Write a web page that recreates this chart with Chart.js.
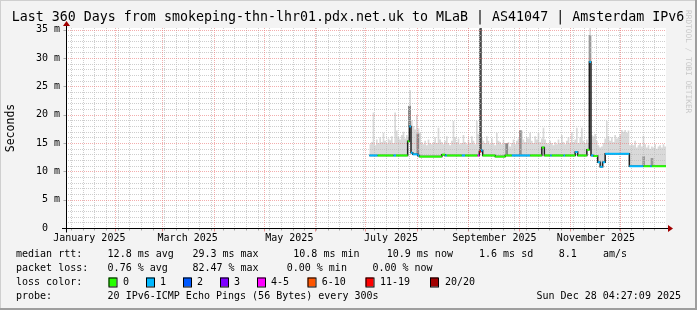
<!DOCTYPE html>
<html><head><meta charset="utf-8">
<script src="https://cdn.jsdelivr.net/npm/chart.js@4/dist/chart.umd.min.js"></script>
<style>html,body{margin:0;padding:0;background:#f3f3f3;}canvas{display:block;}</style>
</head><body>
<canvas id="c" width="697" height="310"></canvas>
<script>
// ---------- data (days since 2025-01-01 00:00) ----------
const titleText = 'Last 360 Days from smokeping-thn-lhr01.pdx.net.uk to MLaB | AS41047 | Amsterdam IPv6';
const yTickValues = [0, 5, 10, 15, 20, 25, 30, 35];
const yTickLabels = ['0  ', '5 m', '10 m', '15 m', '20 m', '25 m', '30 m', '35 m'];
const monthStartDays = [0, 31, 59, 90, 120, 151, 181, 212, 243, 273, 304, 334];
const monthLabelDays = [15.5, 74.5, 135.5, 196.5, 258.5, 319.5];
const monthLabels = ['January 2025', 'March 2025', 'May 2025', 'July 2025', 'September 2025', 'November 2025'];

// median rtt (ms) as steps: start day, value, lost pings (of 20)
const medStart = [183.5,188.5,198,199.5,206.5,207.5,208.5,209.5,212.5,213.5,227,229,230,239,241,248.5,249.5,250.5,251.5,259,265,269,280,287,288.5,292,293,300,301,307,308.5,314,315.5,316.5,318,320.5,322,323.5,325,339.5,348,352,353];
const medMs    = [12.8,12.8,12.8,12.8,15.3,17.9,13.3,13.0,12.8,12.6,12.95,12.8,12.8,12.8,12.8,12.8,13.5,13.7,12.8,12.6,12.8,12.8,12.8,14.2,12.8,12.8,12.8,12.8,12.8,13.4,12.8,13.8,29.3,12.8,12.7,11.6,10.8,11.6,13.1,10.9,10.9,10.9,10.9];
const medLoss  = [1,0,1,0,0,1,1,1,1,0,0,1,0,1,0,4,12,1,0,0,0,1,0,0,0,1,0,1,0,1,0,0,1,1,0,1,1,1,1,1,0,1,0];

// smoke (max of pings, ms), one value per day from smokeStart
const smokeStart = 183.5;
const smokeTop = [
 14.8,15.2,20.4,14.6,15.6,15.0,16.0,15.2,16.8,15.4,
 14.9,15.8,15.5,16.2,15.0,20.4,17.2,16.0,15.6,16.4,
 17.0,15.8,16.4,16.0,24.3,19.0,18.0,17.4,20.0,17.6,
 16.8,15.2,14.8,15.4,14.6,15.6,15.0,14.8,15.2,16.0,
 15.0,17.7,15.6,15.2,14.8,15.4,16.2,15.0,14.6,15.4,
 18.9,16.0,15.2,15.8,14.8,15.0,16.4,15.2,14.8,15.6,
 15.0,16.2,15.4,14.8,18.9,16.6,15.6,16.0,15.4,15.0,
 16.2,15.4,14.8,15.8,15.0,14.6,16.8,15.4,15.2,14.8,
 15.6,15.0,14.8,15.2,14.4,15.0,15.6,14.8,15.4,15.8,
 16.0,17.2,15.6,15.2,16.0,15.8,16.8,15.4,15.0,16.2,
 15.6,16.8,15.2,15.8,17.7,15.6,15.0,14.8,15.4,15.0,
 14.6,15.2,14.8,15.6,15.0,16.4,15.2,14.8,15.4,16.0,
 15.0,16.9,15.2,15.6,17.7,15.0,16.0,17.7,15.4,15.0,
 15.6,15.0,36.0,16.4,16.2,16.6,15.4,14.6,14.2,14.4,
 15.0,15.8,18.9,16.2,15.4,16.0,15.2,16.4,15.8,16.0,
 16.4,17.3,17.0,17.3,16.8,17.2,14.6,14.8,14.6,15.4,
 14.2,14.6,15.0,14.4,16.3,14.8,14.2,14.6,14.0,14.4,
 14.2,14.8,14.0,14.4,14.6,14.2,14.8,14.4
];
// dense smoke columns
const darkDays = [207.6, 212.6, 250.2, 265.9, 274.1, 315.9, 348.1, 353.1];
const darkLow  = [17.9, 13.0, 13.6, 12.8, 12.8, 29.3, 10.9, 10.9];
const darkHigh = [21.5, 16.6, 36.0, 14.9, 17.2, 34.0, 12.6, 12.3];

const legendRows = [
  [['median rtt:',16],['12.8 ms avg',107.6],['29.3 ms max',192.4],['10.8 ms min',293.3],['10.9 ms now',386.7],['1.6 ms sd',479],['8.1',558.7],['am/s',603]],
  [['packet loss:',16],['0.76 % avg',107.6],['82.47 % max',192.4],['0.00 % min',286.7],['0.00 % now',372.4]],
  [['loss color:',16]],
  [['probe:',16],['20 IPv6-ICMP Echo Pings (56 Bytes) every 300s',107.6]]
];
const lossLabels = ['0','1','2','3','4-5','6-10','11-19','20/20'];
const lossColors = ['#26ff00','#00b8ff','#0059ff','#7e00ff','#ff00ff','#ff5500','#ff0000','#a10000'];
const dateText = 'Sun Dec 28 04:27:09 2025';

const X_MIN = 1.5, X_MAX = 361.5, Y_MAX = 35.3;
const MONO = '"DejaVu Sans Mono", monospace';

function lossColor(n){
  if (n >= 20) return lossColors[7];
  if (n >= 11) return lossColors[6];
  if (n >= 6) return lossColors[5];
  if (n >= 4) return lossColors[4];
  return lossColors[n];
}
function medianAt(d){
  let v = medMs[0];
  for (let k = 0; k < medStart.length; k++) if (medStart[k] <= d + 1e-9) v = medMs[k];
  return v;
}

// build datasets
const baseData = smokeTop.map((t, i) => ({x: smokeStart + i, y: medianAt(smokeStart + i)}));
baseData.push({x: X_MAX, y: baseData[baseData.length-1].y});
const topData = smokeTop.map((t, i) => ({x: smokeStart + i, y: t}));
topData.push({x: X_MAX, y: smokeTop[smokeTop.length-1]});

const blackData = medStart.map((d, k) => ({x: d, y: medMs[k]}));
blackData.push({x: X_MAX, y: medMs[medMs.length-1]});

const colorData = [];
medStart.forEach((d, k) => {
  const end = k + 1 < medStart.length ? medStart[k+1] : X_MAX;
  colorData.push({x: d, y: medMs[k], loss: medLoss[k]});
  colorData.push({x: end, y: medMs[k], loss: medLoss[k]});
  colorData.push({x: end, y: null, loss: medLoss[k]});
});

const darkData = darkDays.map((d, i) => ({x: d, y: [darkLow[i], darkHigh[i]]}));

function gridLine(ctx, x1, y1, x2, y2){ ctx.beginPath(); ctx.moveTo(x1, y1); ctx.lineTo(x2, y2); ctx.stroke(); }

function drawGrid(chart){
  const {ctx, chartArea: a, scales: {x, y}} = chart;
  ctx.save();
  ctx.beginPath(); ctx.rect(a.left, a.top - 1, a.right - a.left + 1, a.bottom - a.top + 1); ctx.clip();
  ctx.lineWidth = 1; ctx.setLineDash([1, 1]);
  ctx.strokeStyle = 'rgba(190,190,190,0.75)';
  for (let v = 1; v <= 35; v++) { if (v % 5 === 0) continue; const py = Math.round(y.getPixelForValue(v)) + 0.5; gridLine(ctx, a.left, py, a.right, py); }
  for (let d = 4.5; d < X_MAX; d += 7) { const px = Math.round(x.getPixelForValue(d)) + 0.5; gridLine(ctx, px, a.top, px, a.bottom); }
  ctx.strokeStyle = 'rgba(235,120,120,0.6)';
  for (let v = 5; v <= 35; v += 5) { const py = Math.round(y.getPixelForValue(v)) + 0.5; gridLine(ctx, a.left, py, a.right, py); }
  monthStartDays.forEach(d => { if (d < X_MIN) return; const px = Math.round(x.getPixelForValue(d)) + 0.5; gridLine(ctx, px, a.top, px, a.bottom); });
  ctx.restore();
}

const framePlugin = {
  id: 'frame',
  beforeDraw(chart){
    const {ctx, chartArea: a} = chart;
    ctx.save();
    ctx.fillStyle = '#f3f3f3'; ctx.fillRect(0, 0, 697, 310);
    ctx.fillStyle = '#ffffff'; ctx.fillRect(a.left, a.top, a.right - a.left, a.bottom - a.top);
    ctx.fillStyle = '#cfcfcf'; ctx.fillRect(0, 0, 697, 1); ctx.fillRect(0, 0, 1, 310);
    ctx.fillStyle = '#9e9e9e'; ctx.fillRect(0, 308, 697, 2); ctx.fillRect(695, 0, 2, 310);
    ctx.restore();
  },
  afterDatasetDraw(chart, args){
    if (chart.data.datasets[args.index].role === 'dark') drawGrid(chart);
  },
  afterDraw(chart){
    const {ctx, chartArea: a, scales: {x, y}} = chart;
    ctx.save();
    const x0 = a.left + 0.5, y0 = Math.round(y.getPixelForValue(0)) + 0.5;
    ctx.lineWidth = 1;
    ctx.strokeStyle = 'rgba(235,120,120,0.8)';
    monthStartDays.forEach(d => { if (d < X_MIN) return; const px = Math.round(x.getPixelForValue(d)) + 0.5; gridLine(ctx, px, y0, px, y0 + 3); });
    ctx.strokeStyle = 'rgba(150,150,150,0.8)';
    for (let d = 4.5; d < X_MAX; d += 7) { const px = Math.round(x.getPixelForValue(d)) + 0.5; gridLine(ctx, px, y0, px, y0 + 2); }
    yTickValues.forEach(v => { const py = Math.round(y.getPixelForValue(v)) + 0.5; gridLine(ctx, x0 - 3, py, x0, py); });
    ctx.strokeStyle = '#000'; ctx.setLineDash([]);
    gridLine(ctx, a.left - 4, y0, a.right + 3, y0);
    gridLine(ctx, x0, y0 + 4, x0, a.top - 5);
    ctx.fillStyle = '#a00000';
    ctx.beginPath(); ctx.moveTo(a.right + 2, y0 - 3.5); ctx.lineTo(a.right + 7, y0); ctx.lineTo(a.right + 2, y0 + 3.5); ctx.closePath(); ctx.fill();
    ctx.beginPath(); ctx.moveTo(x0 - 3.5, a.top - 2); ctx.lineTo(x0, a.top - 7); ctx.lineTo(x0 + 3.5, a.top - 2); ctx.closePath(); ctx.fill();
    ctx.fillStyle = '#000'; ctx.textBaseline = 'middle';
    ctx.font = '13.3px ' + MONO; ctx.textAlign = 'center';
    ctx.fillText(titleText, 348, 18);
    ctx.save(); ctx.translate(11, 128); ctx.rotate(-Math.PI / 2);
    ctx.font = '11.5px ' + MONO; ctx.fillText('Seconds', 0, 0); ctx.restore();
    ctx.save(); ctx.translate(688, 10); ctx.rotate(Math.PI / 2);
    ctx.font = '7.8px ' + MONO; ctx.fillStyle = '#c8c8c8'; ctx.textAlign = 'left';
    ctx.fillText('RRDTOOL / TOBI OETIKER', 0, 0); ctx.restore();
    ctx.font = '10px ' + MONO; ctx.textAlign = 'left'; ctx.fillStyle = '#000';
    const rowY = [254, 268, 282, 296];
    legendRows.forEach((row, r) => row.forEach(([t, px]) => ctx.fillText(t, px, rowY[r])));
    const boxX = [108.5, 146, 183, 220, 257, 307.5, 365.5, 430];
    const labX = [123, 160, 197, 234, 271, 321.8, 380, 445];
    lossLabels.forEach((l, i) => {
      ctx.fillStyle = lossColors[i]; ctx.fillRect(boxX[i], rowY[2] - 4.5, 8, 9);
      ctx.strokeStyle = '#000'; ctx.strokeRect(boxX[i] + 0.5, rowY[2] - 4, 8, 9);
      ctx.fillStyle = '#000'; ctx.fillText(l, labX[i], rowY[2]);
    });
    ctx.textAlign = 'right'; ctx.fillText(dateText, 681, rowY[3]);
    ctx.restore();
  }
};

new Chart(document.getElementById('c'), {
  type: 'line',
  data: {
    datasets: [
      {role: 'colored', data: colorData, order: 0, borderWidth: 2, pointRadius: 0, spanGaps: false, fill: false,
       borderCapStyle: 'butt',
       segment: {borderColor: ctx => lossColor(colorData[ctx.p0DataIndex].loss)}, borderColor: '#26ff00'},
      {role: 'black', data: blackData, order: 1, stepped: 'before', borderWidth: 1.5, borderColor: '#202020', pointRadius: 0, fill: false},
      {role: 'dark', type: 'bar', data: darkData, order: 2, barThickness: 2, backgroundColor: ['#777','#888','#4a4a4a','#8a8a8a','#909090','#999','#999','#999'], borderWidth: 0, grouped: false},
      {role: 'smoke', data: topData, order: 3, stepped: 'before', borderWidth: 0, pointRadius: 0, fill: 4, backgroundColor: '#d9d9d9', borderColor: 'rgba(0,0,0,0)'},
      {role: 'base', data: baseData, order: 4, stepped: 'before', borderWidth: 0, pointRadius: 0, fill: false, borderColor: 'rgba(0,0,0,0)'}
    ]
  },
  options: {
    responsive: false, animation: false, devicePixelRatio: 1,
    layout: {padding: {left: 0, right: 31, top: 28, bottom: 0}},
    plugins: {legend: {display: false}, tooltip: {enabled: false}, title: {display: false}},
    scales: {
      x: {type: 'linear', min: X_MIN, max: X_MAX, offset: false,
          grid: {display: false, drawTicks: false}, border: {display: false},
          afterBuildTicks: s => { s.ticks = monthLabelDays.map(v => ({value: v})); },
          afterFit: s => { s.height = 82; },
          ticks: {autoSkip: false, maxRotation: 0, minRotation: 0, padding: 4, color: '#000',
                  font: {family: MONO, size: 10}, callback: (v, i) => monthLabels[i]}},
      y: {type: 'linear', min: 0, max: Y_MAX,
          grid: {display: false, drawTicks: false}, border: {display: false},
          afterBuildTicks: s => { s.ticks = yTickValues.map(v => ({value: v})); },
          afterFit: s => { s.width = 66; },
          ticks: {autoSkip: false, padding: 6, color: '#000',
                  font: {family: MONO, size: 10}, callback: (v, i) => yTickLabels[i]}}
    }
  },
  plugins: [framePlugin]
});
</script>
</body></html>
